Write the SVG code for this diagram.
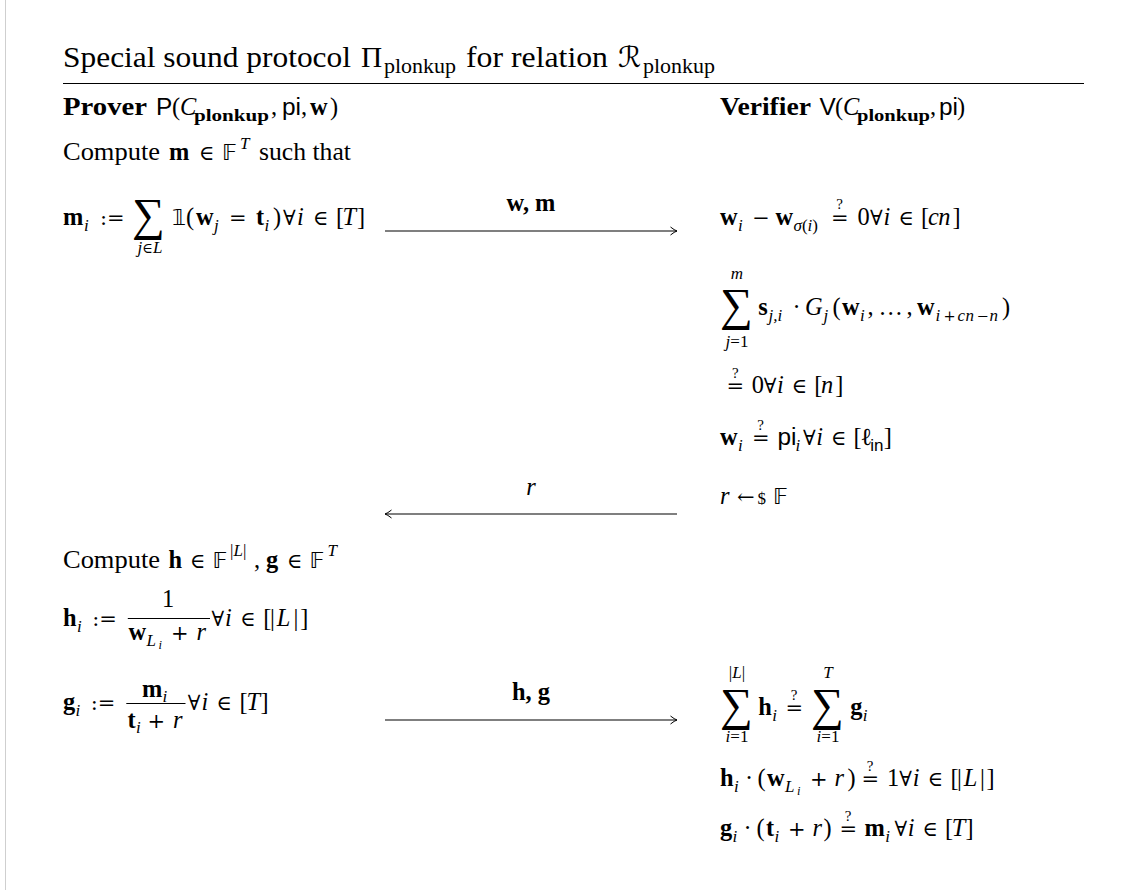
<svg xmlns="http://www.w3.org/2000/svg" width="1146" height="890" viewBox="0 0 1146 890">
<style>
text{font-family:"Liberation Serif","DejaVu Serif",serif;font-size:24.4px;fill:#000}
.ttl{font-size:29.3px}
.tsub{font-size:20px}
.i{font-style:italic}
.b{font-weight:bold}
.hd{font-weight:bold;font-size:26px}
.s{font-family:"Liberation Sans","DejaVu Sans",sans-serif}
.sub{font-size:17px}
.ss{font-size:12.5px}
.q{font-size:15px}
.big{font-size:46px}
.sym{font-family:"DejaVu Serif",serif;font-size:21px}
.ssym{font-family:"DejaVu Serif",serif;font-size:14.5px}
.ds{font-family:"DejaVu Sans","DejaVu Serif","Noto Sans",sans-serif;font-size:22px}
.rule{stroke:#000;stroke-width:1.2}
.conn line{stroke:#000;stroke-width:1.1}
.frac{stroke:#000;stroke-width:1.1}
</style>
<defs>
<marker id="ah" viewBox="-8 -5 10 10" refX="0" refY="0" markerWidth="10" markerHeight="10" markerUnits="userSpaceOnUse" orient="auto-start-reverse">
<path d="M-6.5,-4 Q-2.5,-0.8 0,0 Q-2.5,0.8 -6.5,4" fill="none" stroke="#000" stroke-width="1"/>
</marker>
</defs>
<rect width="1146" height="890" fill="#fff"/>
<line x1="5.5" y1="0" x2="5.5" y2="890" stroke="#cfcfcf" stroke-width="1"/>

<g id="title">
<text class="ttl" x="63" y="67" textLength="288" lengthAdjust="spacingAndGlyphs">Special sound protocol</text>
<text class="ttl" x="361" y="67">Π</text>
<text class="tsub" x="384" y="73" textLength="72" lengthAdjust="spacingAndGlyphs">plonkup</text>
<text class="ttl" x="466" y="67" textLength="142" lengthAdjust="spacingAndGlyphs">for relation</text>
<text class="ds" x="618" y="67" style="font-size:29px">ℛ</text>
<text class="tsub" x="643" y="73" textLength="72" lengthAdjust="spacingAndGlyphs">plonkup</text>
<line class="rule" x1="63" y1="83.5" x2="1084" y2="83.5"/>
</g>

<g id="prover-header">
<text class="hd" x="63" y="115" textLength="84" lengthAdjust="spacingAndGlyphs">Prover</text>
<text y="115"><tspan class="s" x="156">P</tspan><tspan x="172">(</tspan><tspan class="i" x="180">C</tspan><tspan class="b sub" x="194" y="121" textLength="75" lengthAdjust="spacingAndGlyphs">plonkup</tspan><tspan x="271" y="115">,</tspan><tspan class="s" x="282">pi</tspan><tspan x="301">,</tspan><tspan class="b" x="310">w</tspan><tspan x="330">)</tspan></text>
</g>

<g id="verifier-header">
<text class="hd" x="720" y="115" textLength="91" lengthAdjust="spacingAndGlyphs">Verifier</text>
<text y="115"><tspan class="s" x="819.5">V</tspan><tspan x="835">(</tspan><tspan class="i" x="843">C</tspan><tspan class="b sub" x="857" y="121" textLength="73" lengthAdjust="spacingAndGlyphs">plonkup</tspan><tspan x="930" y="115">,</tspan><tspan class="s" x="939">pi</tspan><tspan x="957">)</tspan></text>
</g>

<g id="prover-compute-m">
<text x="63" y="160" textLength="97" lengthAdjust="spacingAndGlyphs">Compute</text>
<text y="160"><tspan class="b" x="169">m</tspan><tspan class="sym" x="199">∈</tspan><tspan class="ds" x="222">𝔽</tspan><tspan class="i sub" x="240" y="149">T</tspan></text>
<text x="259" y="160" textLength="92" lengthAdjust="spacingAndGlyphs">such that</text>
</g>

<g id="prover-m-def">
<text y="225"><tspan class="b" x="63">m</tspan><tspan class="i sub" x="84" y="231">i</tspan><tspan class="sym" x="100" y="225">:=</tspan><tspan class="ds" x="172">𝟙</tspan><tspan x="186">(</tspan><tspan class="b" x="196">w</tspan><tspan class="i sub" x="214" y="231">j</tspan><tspan class="sym" x="229" y="225">=</tspan><tspan class="b" x="256">t</tspan><tspan class="i sub" x="264.5" y="231">i</tspan><tspan x="273" y="225">)</tspan><tspan class="sym" x="283">∀</tspan><tspan class="i" x="297">i</tspan><tspan class="sym" x="313">∈</tspan><tspan x="336">[</tspan><tspan class="i" x="342.5">T</tspan><tspan x="357">]</tspan></text>
<text class="big" x="132" y="229.5">∑</text>
<text class="sub" x="150" y="253" text-anchor="middle"><tspan class="i">j</tspan><tspan class="ssym">∈</tspan><tspan class="i">L</tspan></text>
</g>

<g id="verifier-copy-check">
<text y="225"><tspan class="b" x="720">w</tspan><tspan class="i sub" x="738" y="231">i</tspan><tspan class="sym" x="752.2" y="225">−</tspan><tspan class="b" x="775.6">w</tspan><tspan class="sub" x="793.5" y="231"><tspan class="i">σ</tspan>(<tspan class="i">i</tspan>)</tspan><tspan class="sym" x="831" y="225">=</tspan><tspan class="q" x="836.2" y="209">?</tspan><tspan x="857.5" y="225">0</tspan><tspan class="sym" x="870">∀</tspan><tspan class="i" x="883.5">i</tspan><tspan class="sym" x="898.5">∈</tspan><tspan x="921">[</tspan><tspan class="i" x="927.9">c</tspan><tspan class="i" x="938.3">n</tspan><tspan x="952.4">]</tspan></text>
</g>

<g id="verifier-gate-check">
<text class="big" x="720" y="320">∑</text>
<text class="i sub" x="737" y="279" text-anchor="middle">m</text>
<text class="sub" x="737" y="347" text-anchor="middle"><tspan class="i">j</tspan>=1</text>
<text y="315"><tspan class="b" x="758.3">s</tspan><tspan class="i sub" x="768.5" y="321">j,i</tspan><tspan x="792.5" y="315">·</tspan><tspan class="i" x="805">G</tspan><tspan class="i sub" x="823.5" y="321">j</tspan><tspan x="832.5" y="315">(</tspan><tspan class="b" x="842">w</tspan><tspan class="i sub" x="860" y="321">i</tspan><tspan x="867.5" y="315">,</tspan><tspan x="878.5">…</tspan><tspan x="906.5">,</tspan><tspan class="b" x="917">w</tspan><tspan class="i sub" x="935.5" y="321">i</tspan><tspan class="ssym" x="943.5">+</tspan><tspan class="i sub" x="957.5">c</tspan><tspan class="i sub" x="965.5">n</tspan><tspan class="ssym" x="976.5">−</tspan><tspan class="i sub" x="989.5">n</tspan><tspan x="1002" y="315">)</tspan></text>
<text y="393"><tspan class="sym" x="726.6">=</tspan><tspan class="q" x="731.9" y="378">?</tspan><tspan x="751.8" y="393">0</tspan><tspan class="sym" x="763.7">∀</tspan><tspan class="i" x="776.9">i</tspan><tspan class="sym" x="791.8">∈</tspan><tspan x="814.3">[</tspan><tspan class="i" x="821">n</tspan><tspan x="835.2">]</tspan></text>
</g>

<g id="verifier-pi-check">
<text y="445"><tspan class="b" x="720">w</tspan><tspan class="i sub" x="738" y="451">i</tspan><tspan class="sym" x="752" y="445">=</tspan><tspan class="q" x="757.3" y="430">?</tspan><tspan class="s" x="777.5" y="445">pi</tspan><tspan class="i sub" x="795.5" y="451">i</tspan><tspan class="sym" x="803" y="445">∀</tspan><tspan class="i" x="816.2">i</tspan><tspan class="sym" x="831">∈</tspan><tspan x="853.6">[</tspan><tspan x="860.2">ℓ</tspan><tspan class="s sub" x="870.2" y="451">in</tspan><tspan x="883.8" y="445">]</tspan></text>
</g>

<g id="verifier-sample-r">
<text y="504"><tspan class="i" x="720">r</tspan><tspan class="sym" x="737">←</tspan><tspan style="font-size:17px" x="757.5">$</tspan><tspan class="ds" x="773">𝔽</tspan></text>
</g>

<g id="prover-compute-hg">
<text x="63" y="568" textLength="97" lengthAdjust="spacingAndGlyphs">Compute</text>
<text y="568"><tspan class="b" x="168.5">h</tspan><tspan class="sym" x="190">∈</tspan><tspan class="ds" x="212.5">𝔽</tspan><tspan class="sub" x="230" y="556">|<tspan class="i">L</tspan>|</tspan><tspan x="254" y="568">,</tspan><tspan class="b" x="266">g</tspan><tspan class="sym" x="287">∈</tspan><tspan class="ds" x="309.5">𝔽</tspan><tspan class="i sub" x="327.5" y="556">T</tspan></text>
</g>

<g id="prover-h-def">
<text y="626"><tspan class="b" x="63">h</tspan><tspan class="i sub" x="77" y="632">i</tspan><tspan class="sym" x="92.3" y="626">:=</tspan></text>
<text x="168" y="607" text-anchor="middle">1</text>
<line class="frac" x1="127.8" y1="618.5" x2="210" y2="618.5"/>
<text y="640"><tspan class="b" x="128.5">w</tspan><tspan class="i sub" x="146.5" y="646">L</tspan><tspan class="i ss" x="158.5" y="649">i</tspan><tspan class="sym" x="171" y="640">+</tspan><tspan class="i" x="196.5">r</tspan></text>
<text y="626"><tspan class="sym" x="211.5">∀</tspan><tspan class="i" x="225.1">i</tspan><tspan class="sym" x="240.3">∈</tspan><tspan x="263.3">[</tspan><tspan x="270">|</tspan><tspan class="i" x="276.8">L</tspan><tspan x="293.4">|</tspan><tspan x="300.2">]</tspan></text>
</g>

<g id="prover-g-def">
<text y="710"><tspan class="b" x="63">g</tspan><tspan class="i sub" x="75.5" y="716">i</tspan><tspan class="sym" x="90.8" y="710">:=</tspan></text>
<text y="697"><tspan class="b" x="142">m</tspan><tspan class="i sub" x="162.5" y="702">i</tspan></text>
<line class="frac" x1="126.3" y1="703.5" x2="185.5" y2="703.5"/>
<text y="728"><tspan class="b" x="127.5">t</tspan><tspan class="i sub" x="136" y="733">i</tspan><tspan class="sym" x="147.5" y="728">+</tspan><tspan class="i" x="173">r</tspan></text>
<text y="710"><tspan class="sym" x="187.8">∀</tspan><tspan class="i" x="201.4">i</tspan><tspan class="sym" x="216.6">∈</tspan><tspan x="239.6">[</tspan><tspan class="i" x="246.4">T</tspan><tspan x="260.6">]</tspan></text>
</g>

<g id="verifier-sum-check">
<text class="big" x="720" y="720">∑</text>
<text class="sub" x="737" y="678" text-anchor="middle">|<tspan class="i">L</tspan>|</text>
<text class="sub" x="737" y="742" text-anchor="middle"><tspan class="i">i</tspan>=1</text>
<text y="715"><tspan class="b" x="758.3">h</tspan><tspan class="i sub" x="772.3" y="721">i</tspan><tspan class="sym" x="785.5" y="715">=</tspan><tspan class="q" x="790.8" y="700">?</tspan></text>
<text class="big" x="811" y="720">∑</text>
<text class="i sub" x="828" y="678" text-anchor="middle">T</text>
<text class="sub" x="828" y="742" text-anchor="middle"><tspan class="i">i</tspan>=1</text>
<text y="715"><tspan class="b" x="850.3">g</tspan><tspan class="i sub" x="862.8" y="721">i</tspan></text>
</g>

<g id="verifier-h-check">
<text y="786"><tspan class="b" x="720">h</tspan><tspan class="i sub" x="734" y="792">i</tspan><tspan x="745" y="786">·</tspan><tspan x="757.5">(</tspan><tspan class="b" x="767">w</tspan><tspan class="i sub" x="785" y="792">L</tspan><tspan class="i ss" x="797" y="795">i</tspan><tspan class="sym" x="810" y="786">+</tspan><tspan class="i" x="834.5">r</tspan><tspan x="847.5">)</tspan><tspan class="sym" x="861.5">=</tspan><tspan class="q" x="866.8" y="771">?</tspan><tspan x="887" y="786">1</tspan><tspan class="sym" x="899.3">∀</tspan><tspan class="i" x="912.8">i</tspan><tspan class="sym" x="927.8">∈</tspan><tspan x="950.5">[</tspan><tspan x="957.1">|</tspan><tspan class="i" x="963.7">L</tspan><tspan x="980">|</tspan><tspan x="986.6">]</tspan></text>
</g>

<g id="verifier-g-check">
<text y="836"><tspan class="b" x="720">g</tspan><tspan class="i sub" x="732.5" y="842">i</tspan><tspan x="743.5" y="836">·</tspan><tspan x="756.5">(</tspan><tspan class="b" x="766">t</tspan><tspan class="i sub" x="774.5" y="842">i</tspan><tspan class="sym" x="788" y="836">+</tspan><tspan class="i" x="812.5">r</tspan><tspan x="823.5">)</tspan><tspan class="sym" x="839.5">=</tspan><tspan class="q" x="844.8" y="821">?</tspan><tspan class="b" x="864.5" y="836">m</tspan><tspan class="i sub" x="885.2" y="842">i</tspan><tspan class="sym" x="894.5" y="836">∀</tspan><tspan class="i" x="907.8">i</tspan><tspan class="sym" x="922.6">∈</tspan><tspan x="945.1">[</tspan><tspan class="i" x="951.8">T</tspan><tspan x="965.4">]</tspan></text>
</g>

<g id="connectors" class="conn">
<line x1="385" y1="231" x2="677" y2="231" marker-end="url(#ah)"/>
<text class="b" x="531" y="211" text-anchor="middle">w, m</text>
<line x1="385" y1="514" x2="677" y2="514" marker-start="url(#ah)"/>
<text class="i" x="531" y="495" text-anchor="middle">r</text>
<line x1="385" y1="720" x2="677" y2="720" marker-end="url(#ah)"/>
<text class="b" x="531" y="700" text-anchor="middle">h, g</text>
</g>
</svg>
